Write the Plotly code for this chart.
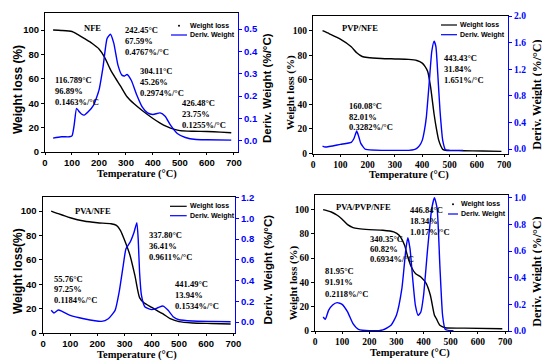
import plotly.graph_objects as go

W, H = 550, 364
OFF = 8  # the page body adds an 8px margin around the figure
SANS = "Liberation Sans"
SERIF = "Liberation Serif"
BLUE = "#0000ff"

# ---------------- data ----------------
# NFE
nfe_t_w = [30, 60, 100, 116.8, 150, 175, 200, 220, 242.5, 260, 280, 304, 330, 360, 400, 426.5, 450, 480, 500, 550, 600, 650, 690]
nfe_w = [100, 99.7, 98.8, 96.9, 92.5, 89, 84.5, 78, 67.6, 61, 54, 45.3, 39.5, 34, 27.5, 23.75, 21, 18.5, 17.5, 17, 16.8, 16.3, 15.8]
nfe_t_d = [30, 60, 90, 100, 108, 117, 127, 135, 145, 160, 180, 200, 215, 230, 242.5, 255, 270, 285, 295, 304, 320, 340, 360, 380, 400, 426.5, 445, 465, 490, 520, 560, 600, 690]
nfe_d = [0.012, 0.018, 0.018, 0.022, 0.07, 0.145, 0.13, 0.12, 0.115, 0.13, 0.16, 0.227, 0.33, 0.458, 0.477, 0.436, 0.34, 0.294, 0.29, 0.297, 0.27, 0.205, 0.152, 0.125, 0.118, 0.125, 0.11, 0.07, 0.033, 0.015, 0.006, 0.005, 0.003]

# PVP/NFE
pvp_t_w = [35, 60, 100, 140, 160, 180, 200, 250, 300, 350, 380, 400, 410, 420, 430, 443.4, 452, 460, 468, 475, 490, 550, 620, 690]
pvp_w = [100, 97.5, 93.2, 87, 82, 79, 78.2, 77.4, 77, 76.6, 75.7, 73.6, 71, 66.8, 55, 31.9, 20, 11, 6, 3.3, 2.4, 2.2, 1.9, 1.6]
pvp_t_d = [35, 45, 100, 140, 150, 160, 168, 175, 190, 200, 250, 300, 350, 370, 380, 390, 400, 408, 415, 425, 435, 443.4, 450, 457, 465, 475, 485, 500, 550]
pvp_d = [0.044, 0.03, 0.07, 0.1, 0.158, 0.27, 0.18, 0.084, 0.0, -0.01, -0.02, -0.02, -0.02, -0.01, 0.01, 0.05, 0.13, 0.28, 0.48, 0.97, 1.47, 1.62, 1.54, 1.12, 0.58, 0.13, -0.01, -0.02, -0.02]

# PVA/NFE
pva_t_w = [30, 56, 100, 150, 200, 250, 270, 285, 300, 320, 338, 355, 370, 400, 441.5, 470, 500, 550, 620, 690]
pva_w = [100, 97.8, 94.5, 91.8, 90.4, 89.6, 88.2, 84, 76, 63.6, 47, 29, 25, 21, 15.6, 11.5, 9.3, 8.2, 7.8, 7.4]
pva_t_d = [30, 40, 56, 70, 100, 150, 215, 240, 265, 280, 295, 305, 320, 335, 345, 350, 355, 362, 375, 400, 420, 441.5, 460, 480, 500, 550, 620, 690]
pva_d = [0.113, 0.087, 0.116, 0.103, 0.064, 0.032, 0.006, 0.032, 0.113, 0.29, 0.547, 0.708, 0.77, 0.87, 0.96, 0.80, 0.48, 0.257, 0.145, 0.12, 0.135, 0.154, 0.113, 0.048, 0.022, 0.01, 0.006, 0.003]

# PVA/PVP/NFE
tri_t_w = [30, 60, 82, 100, 120, 140, 160, 200, 250, 290, 310, 330, 340, 355, 370, 390, 410, 425, 440, 447, 460, 480, 550, 690]
tri_w = [100, 98, 95.3, 92, 87.6, 85.2, 84.3, 83.5, 83, 81.6, 78.8, 70.6, 62.4, 52.7, 47.3, 44.5, 39, 29.4, 13, 10.2, 4.7, 2.7, 2.4, 1.9]
tri_t_d = [30, 38, 50, 65, 82, 100, 120, 140, 160, 200, 250, 280, 300, 320, 335, 342, 350, 360, 370, 380, 390, 400, 415, 430, 440, 450, 460, 470, 480, 510]
tri_d = [0.105, 0.088, 0.155, 0.195, 0.2125, 0.2, 0.143, 0.055, 0.012, 0.002, 0.008, 0.043, 0.118, 0.318, 0.618, 0.7, 0.618, 0.39, 0.19, 0.118, 0.143, 0.268, 0.618, 0.918, 1.0, 0.918, 0.49, 0.118, 0.012, 0.002]

panel_names = ["NFE", "PVP/NFE", "PVA/NFE", "PVA/PVP/NFE"]
nfe_labels = [["242.45°C", "67.59%", "0.4767%/°C"], ["116.789°C", "96.89%", "0.1463%/°C"],
              ["304.11°C", "45.26%", "0.2974%/°C"], ["426.48°C", "23.75%", "0.1255%/°C"]]
pvp_labels = [["443.43°C", "31.84%", "1.651%/°C"], ["160.08°C", "82.01%", "0.3282%/°C"]]
pva_labels = [["337.80°C", "36.41%", "0.9611%/°C"], ["55.76°C", "97.25%", "0.1184%/°C"],
              ["441.49°C", "13.94%", "0.1534%/°C"]]
tri_labels = [["446.84°C", "18.34%", "1.017%/°C"], ["340.35°C", "60.82%", "0.6934%/°C"],
              ["81.95°C", "91.91%", "0.2118%/°C"]]
x_ticks = [0, 100, 200, 300, 400, 500, 600, 700]
w_ticks = [0, 20, 40, 60, 80, 100]


def px(x):
    return (x - OFF) / W


def py(y):
    return 1 - (y - OFF) / H


panels = [
    dict(tw=nfe_t_w, w=nfe_w, td=nfe_t_d, d=nfe_d, box=(45, 238, 13, 152), xr=[0, 715], yl=[0, 114],
         yr=[-0.05, 0.572], rt=[0, 0.1, 0.2, 0.3, 0.4, 0.5], font=SANS, ltitle="Weight loss (%)",
         lt_pos=(18, 90, 12), rt_pos=(267, 88, 11.5), xt_pos=(137, 174.5), name_pos=(81.7, 28),
         labels=nfe_labels, lab_pos=[(122.7, [30, 40.7, 51.7]), (53.3, [80, 91, 102]),
                                     (138.3, [70.7, 81.7, 92.7]), (180, [103, 114, 125])],
         leg=(171, 187, 188, 25.7, 35), dot=True),
    dict(tw=pvp_t_w, w=pvp_w, td=pvp_t_d, d=pvp_d, box=(313, 508, 16, 154), xr=[0, 714], yl=[-0.5, 112],
         yr=[-0.075, 2.0], rt=[0, 0.4, 0.8, 1.2, 1.6, 2.0], font=SERIF, ltitle="Weight loss (%)",
         lt_pos=(290, 93, 11), rt_pos=(536.7, 95, 12), xt_pos=(409, 175.5), name_pos=(340, 28.3),
         labels=pvp_labels, lab_pos=[(441.7, [58.3, 69, 80]), (346.7, [106, 116.7, 127.3])],
         leg=(441, 457, 458, 25, 34.7), dot=False),
    dict(tw=pva_t_w, w=pva_w, td=pva_t_d, d=pva_d, box=(42.5, 235, 197, 333), xr=[-2, 706], yl=[0, 111.5],
         yr=[-0.106, 1.207], rt=[0, 0.2, 0.4, 0.6, 0.8, 1.0, 1.2], font=SANS, ltitle="Weight loss(%)",
         lt_pos=(18, 271, 12), rt_pos=(267, 269.5, 11.5), xt_pos=(137, 355), name_pos=(73.3, 211.3),
         labels=pva_labels, lab_pos=[(146.7, [235.3, 246.3, 257.3]), (52.3, [278.7, 289.3, 300]),
                                     (172.7, [284, 294.7, 306])],
         leg=(170, 186.7, 187.7, 206.3, 215.7), dot=False),
    dict(tw=tri_t_w, w=tri_w, td=tri_t_d, d=tri_d, box=(315, 508, 195, 331), xr=[0, 711], yl=[0, 112],
         yr=[0, 1.02], rt=[0, 0.2, 0.4, 0.6, 0.8, 1.0], font=SERIF, ltitle="Weight loss (%)",
         lt_pos=(293.3, 283, 11), rt_pos=(536.7, 272, 12), xt_pos=(410, 353), name_pos=(334, 207),
         labels=tri_labels, lab_pos=[(408.3, [210.3, 221, 231.7]), (367.7, [238.7, 248.7, 259.3]),
                                     (322.7, [271.3, 282, 293.7])],
         leg=(448, 458, 459.3, 204.3, 214), dot=True),
]

fig = go.Figure()
layout = dict(width=W, height=H, margin=dict(l=0, r=0, t=0, b=0, autoexpand=False), showlegend=False,
              plot_bgcolor="white", paper_bgcolor="white")
annotations = []
shapes = []

for i, p in enumerate(panels):
    n = i + 1
    xa = "x" if n == 1 else f"x{n}"
    yl = 2 * n - 1
    yr = 2 * n
    yla = "y" if yl == 1 else f"y{yl}"
    yra = f"y{yr}"
    x0, x1, y0, y1 = p["box"]
    tickfont = dict(family=p["font"], size=9.5, color="black", weight="bold")
    layout["xaxis" if n == 1 else f"xaxis{n}"] = dict(
        domain=[px(x0), px(x1)], anchor=yla, range=p["xr"], tickvals=x_ticks,
        showline=True, linecolor="black", linewidth=1, mirror=True, ticks="outside", ticklen=2,
        tickcolor="black", showgrid=False, zeroline=False, tickfont=tickfont, automargin=False)
    layout["yaxis" if yl == 1 else f"yaxis{yl}"] = dict(
        domain=[py(y1), py(y0)], anchor=xa, range=p["yl"], tickvals=w_ticks,
        showline=True, linecolor="black", linewidth=1, ticks="outside", ticklen=3,
        tickcolor="black", showgrid=False, zeroline=False, tickfont=tickfont, automargin=False)
    layout[f"yaxis{yr}"] = dict(
        overlaying=yla, side="right", anchor=xa, range=p["yr"], tickvals=p["rt"], tickformat=".1f",
        showline=True, linecolor=BLUE, linewidth=1.2, ticks="outside", ticklen=3, tickcolor=BLUE,
        showgrid=False, zeroline=False, automargin=False,
        tickfont=dict(family=p["font"], size=9.5, color=BLUE, weight="bold"))

    fig.add_trace(go.Scatter(x=p["tw"], y=p["w"], xaxis=xa, yaxis=yla, mode="lines",
                             line=dict(color="black", width=1.4, shape="spline", smoothing=0.6)))
    fig.add_trace(go.Scatter(x=p["td"], y=p["d"], xaxis=xa, yaxis=yra, mode="lines",
                             line=dict(color=BLUE, width=1.4, shape="spline", smoothing=0.5)))

    # axis titles
    lx, ly, ls = p["lt_pos"]
    annotations.append(dict(x=px(lx), y=py(ly), xref="paper", yref="paper", text=p["ltitle"],
                            textangle=-90, showarrow=False, xanchor="center", yanchor="middle",
                            font=dict(family=p["font"], size=ls, color="black", weight="bold")))
    rx, ry, rs = p["rt_pos"]
    annotations.append(dict(x=px(rx), y=py(ry), xref="paper", yref="paper", text="Deriv. Weight (%/°C)",
                            textangle=-90, showarrow=False, xanchor="center", yanchor="middle",
                            font=dict(family=p["font"], size=rs, color="black", weight="bold")))
    tx, ty = p["xt_pos"]
    annotations.append(dict(x=px(tx), y=py(ty), xref="paper", yref="paper", text="Temperature (°C)",
                            showarrow=False, xanchor="center", yanchor="middle",
                            font=dict(family=SERIF, size=10.5, color="black", weight="bold")))
    # panel name
    nx, ny = p["name_pos"]
    annotations.append(dict(x=px(nx), y=py(ny), xref="paper", yref="paper", text=panel_names[i],
                            showarrow=False, xanchor="left", yanchor="middle",
                            font=dict(family=SERIF, size=8.5, color="black", weight="bold")))
    # peak labels
    for lines, (lxp, ys) in zip(p["labels"], p["lab_pos"]):
        for t, yy in zip(lines, ys):
            annotations.append(dict(x=px(lxp), y=py(yy), xref="paper", yref="paper", text=t,
                                    showarrow=False, xanchor="left", yanchor="middle",
                                    font=dict(family=SERIF, size=8.5, color="black", weight="bold")))
    # legend
    l0, l1, ltx, ly1, ly2 = p["leg"]
    if p["dot"]:
        shapes.append(dict(type="circle", xref="paper", yref="paper",
                           x0=px((l0 + l1) / 2 - 1), x1=px((l0 + l1) / 2 + 1),
                           y0=py(ly1 + 1), y1=py(ly1 - 1), fillcolor="black", line=dict(width=0)))
    else:
        shapes.append(dict(type="line", xref="paper", yref="paper", x0=px(l0), x1=px(l1),
                           y0=py(ly1), y1=py(ly1), line=dict(color="black", width=1.2)))
    shapes.append(dict(type="line", xref="paper", yref="paper", x0=px(l0), x1=px(l1),
                       y0=py(ly2), y1=py(ly2), line=dict(color=BLUE, width=1.2)))
    for t, yy in [("Weight loss", ly1), ("Deriv. Weight", ly2)]:
        annotations.append(dict(x=px(ltx), y=py(yy), xref="paper", yref="paper", text=t,
                                showarrow=False, xanchor="left", yanchor="middle",
                                font=dict(family=SANS, size=7, color="black", weight="bold")))

layout["annotations"] = annotations
layout["shapes"] = shapes
fig.update_layout(**layout)
fig.write_html("out.html")
